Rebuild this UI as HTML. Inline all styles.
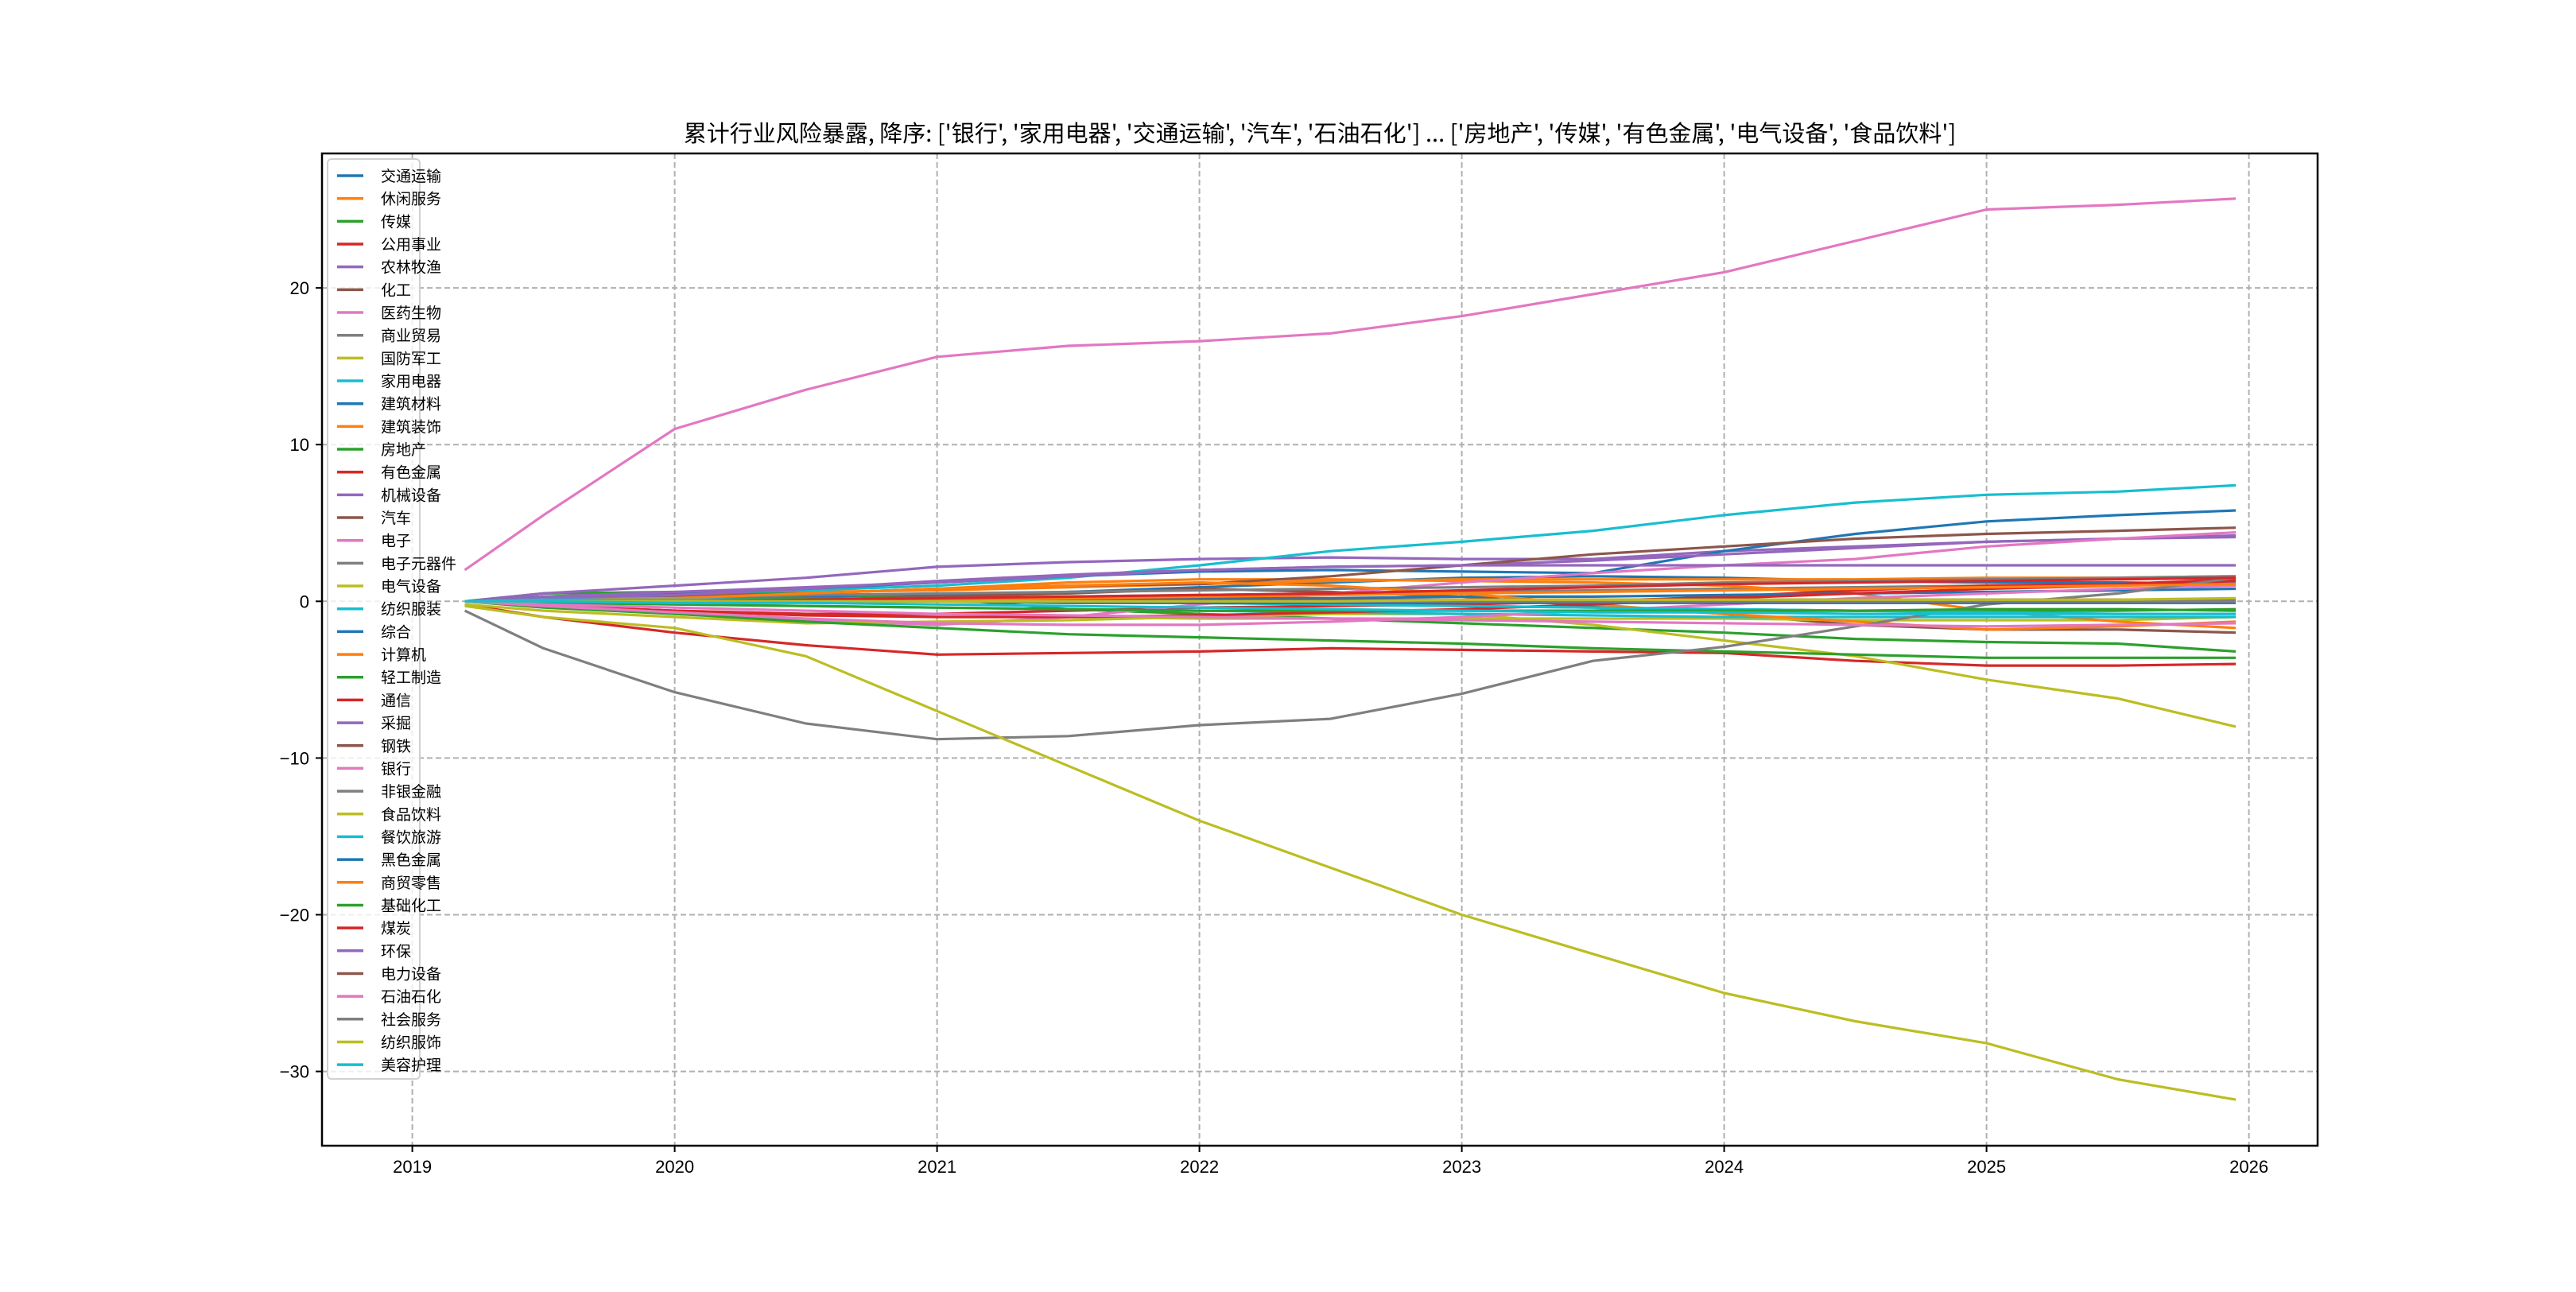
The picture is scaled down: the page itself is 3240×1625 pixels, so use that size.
<!DOCTYPE html>
<html><head><meta charset="utf-8"><style>
html,body{margin:0;padding:0;background:#fff;}
svg text{font-family:"Liberation Sans","Noto Sans CJK SC",sans-serif;}
</style></head><body>
<svg id="chart" width="3240" height="1620" viewBox="0 0 3240 1620" xmlns="http://www.w3.org/2000/svg">
<rect width="3240" height="1620" fill="#fff"/>
<text x="1660" y="178" font-size="29" text-anchor="middle" fill="#000" style="font-family:'Noto Sans CJK SC','Liberation Sans',sans-serif">累计行业风险暴露, 降序: ['银行', '家用电器', '交通运输', '汽车', '石油石化'] ... ['房地产', '传媒', '有色金属', '电气设备', '食品饮料']</text>
<g id="grid"></g>
<g id="lines"></g>
<rect x="405" y="193" width="2510" height="1248" fill="none" stroke="#000" stroke-width="2.5"/>
<g id="axes"></g>
<g id="legend"></g>
</svg>
<script>
const xTickLabels = [2019,2020,2021,2022,2023,2024,2025,2026];
const yTickLabels = [20,10,0,-10,-20,-30];
const times = [2019.2,2019.5,2020,2020.5,2021,2021.5,2022,2022.5,2023,2023.5,2024,2024.5,2025,2025.5,2025.95];
const colors = ['#1f77b4','#ff7f0e','#2ca02c','#d62728','#9467bd','#8c564b','#e377c2','#7f7f7f','#bcbd22','#17becf'];
const s00 = [0,0.1,0.2,0.3,0.4,0.6,0.9,1.2,1.5,1.6,1.5,1.3,1.2,1.2,1.1];
const s01 = [0,0.2,0.4,0.6,0.7,0.9,1.1,1.3,1.4,1.4,1.4,1.4,1.5,1.5,1.6];
const s02 = [0,0.5,0.6,0.5,0.2,-0.5,-0.8,-1.1,-1.4,-1.7,-2.0,-2.4,-2.6,-2.7,-3.2];
const s03 = [-0.2,-1,-2,-2.8,-3.4,-3.3,-3.2,-3.0,-3.1,-3.2,-3.3,-3.8,-4.1,-4.1,-4.0];
const s04 = [0,0.5,1.0,1.5,2.2,2.5,2.7,2.8,2.7,2.7,3.2,3.5,3.8,4.0,4.2];
const s05 = [0,0.1,0.2,0.1,0.3,0.5,0.8,0.6,0.3,-0.3,-0.8,-1.5,-1.8,-1.8,-2.0];
const s06 = [2,5.5,11,13.5,15.6,16.3,16.6,17.1,18.2,19.6,21,23,25,25.3,25.7];
const s07 = [0,0,0.1,0.1,0.2,0.3,0.4,0.5,0.6,0.7,0.8,0.9,1.0,1.1,1.2];
const s08 = [0,-0.3,-0.6,-0.8,-1.0,-1.0,-1.1,-1.1,-1.1,-1.1,-1.1,-1.2,-1.2,-1.2,-1.0];
const s09 = [0,0.3,0.5,0.7,1.0,1.5,2.3,3.2,3.8,4.5,5.5,6.3,6.8,7.0,7.4];
const s10 = [0,0.3,0.5,0.8,1.2,1.6,1.9,2.0,1.9,1.8,3.2,4.3,5.1,5.5,5.8];
const s11 = [0,0.1,0.3,0.5,0.8,1.2,1.4,1.4,1.3,1.2,1.0,0.5,-0.6,-1.3,-1.7];
const s12 = [0,0.3,0.3,0.2,0.1,0,-0.1,-0.2,-0.3,-0.4,-0.5,-0.6,-0.6,-0.6,-0.5];
const s13 = [0,-0.3,-0.6,-0.8,-0.8,-0.6,-0.4,-0.3,-0.2,0,0.3,0.7,1.0,1.1,1.4];
const s14 = [0,0.3,0.6,0.9,1.2,1.6,2.0,2.2,2.3,2.6,3.0,3.4,3.8,4.0,4.1];
const s15 = [0,0.2,0.3,0.5,0.8,1.0,1.1,1.6,2.3,3.0,3.5,4.0,4.3,4.5,4.7];
const s16 = [0,-0.3,-0.8,-1.2,-1.5,-1.0,-0.2,0.5,1.2,1.8,2.3,2.7,3.5,4.0,4.4];
const s17 = [0,0.1,0.2,0.4,0.5,0.6,0.7,0.8,0.9,1.0,1.2,1.3,1.4,1.5,1.6];
const s18 = [-0.2,-0.6,-1,-1.4,-1.3,-1.2,-1.0,-0.8,-0.8,-1.5,-2.5,-3.5,-5,-6.2,-8];
const s19 = [0,-0.1,-0.2,-0.3,-0.4,-0.5,-0.6,-0.7,-0.8,-0.9,-1.0,-1.0,-1.0,-1.0,-1.0];
const s20 = [0,0,0,0.1,0.1,0.1,0.2,0.2,0.3,0.3,0.4,0.5,0.6,0.7,0.8];
const s21 = [0,0.1,0.2,0.5,0.8,1.0,1.2,1.0,0.5,-0.2,-0.8,-1.3,-1.8,-1.6,-1.3];
const s22 = [0,-0.4,-0.8,-1.3,-1.7,-2.1,-2.3,-2.5,-2.7,-3.0,-3.2,-3.4,-3.6,-3.6,-3.6];
const s23 = [0,-0.3,-0.6,-0.9,-1.0,-1.0,-0.9,-0.7,-0.5,-0.2,0.2,0.5,0.8,1.0,1.3];
const s24 = [0,0.2,0.4,0.8,1.3,1.7,2.0,2.2,2.3,2.3,2.3,2.3,2.3,2.3,2.3];
const s25 = [0,0,0,0.1,0.1,0.1,0.1,0.1,0.1,0.1,0.1,0.1,0.1,0.1,0.1];
const s26 = [0,-0.3,-0.7,-1.1,-1.4,-1.5,-1.5,-1.3,-1.0,-0.6,-0.2,0.2,0.5,0.8,1.0];
const s27 = [-0.6,-3,-5.8,-7.8,-8.8,-8.6,-7.9,-7.5,-5.9,-3.8,-2.9,-1.6,-0.2,0.5,1.5];
const s28 = [-0.3,-1,-1.7,-3.5,-7,-10.5,-14,-17,-20,-22.5,-25,-26.8,-28.2,-30.5,-31.8];
const s29 = [0,0.1,0.1,0.1,0,0,-0.1,-0.2,-0.3,-0.4,-0.5,-0.6,-0.7,-0.8,-0.8];
const s30 = [0,0,0,0,0,-0.1,-0.1,-0.1,-0.1,-0.1,-0.1,-0.1,-0.1,-0.1,-0.1];
const s31 = [0,0,0,0.1,0.1,0.2,0.3,0.4,0.5,0.6,0.7,0.8,0.9,1.0,1.1];
const s32 = [0,-0.1,-0.2,-0.3,-0.4,-0.5,-0.6,-0.6,-0.6,-0.6,-0.6,-0.6,-0.5,-0.5,-0.6];
const s33 = [0,0,0,0.1,0.2,0.3,0.4,0.5,0.7,0.9,1.1,1.2,1.3,1.4,1.5];
const s34 = [0,0,0,0,0,0,0,0,0,0,0,0,0,0,0];
const s35 = [0,0,0,0,0,0,0,0,0.1,0.1,0.1,0.1,0.1,0.1,0.1];
const s36 = [0,-0.2,-0.4,-0.6,-0.8,-0.9,-1.0,-1.1,-1.2,-1.3,-1.4,-1.5,-1.6,-1.5,-1.4];
const s37 = [0,0,0,0,0,0,0,0,0,0,0,0,0,0,0];
const s38 = [0,0,0,0,0,0,0,0,0.1,0.1,0.1,0.1,0.1,0.1,0.2];
const s39 = [0,0,-0.1,-0.1,-0.2,-0.3,-0.4,-0.5,-0.6,-0.7,-0.7,-0.8,-0.8,-0.8,-0.8];
const seriesValues = [s00,s01,s02,s03,s04,s05,s06,s07,s08,s09,s10,s11,s12,s13,s14,s15,s16,s17,s18,s19,s20,s21,s22,s23,s24,s25,s26,s27,s28,s29,s30,s31,s32,s33,s34,s35,s36,s37,s38,s39];
const legendNames = ['交通运输','休闲服务','传媒','公用事业','农林牧渔','化工','医药生物','商业贸易','国防军工','家用电器','建筑材料','建筑装饰','房地产','有色金属','机械设备','汽车','电子','电子元器件','电气设备','纺织服装','综合','计算机','轻工制造','通信','采掘','钢铁','银行','非银金融','食品饮料','餐饮旅游','黑色金属','商贸零售','基础化工','煤炭','环保','电力设备','石油石化','社会服务','纺织服饰','美容护理'];

const NS='http://www.w3.org/2000/svg';
const PL=405, PR=2915, PT=193, PB=1441;
function xScale(t){ return 518.6 + (t-2019)*330.0; }
function yScale(v){ return 756.3 - v*19.71; }
function mk(tag, attrs, parent){ const e=document.createElementNS(NS,tag); for(const k in attrs) e.setAttribute(k,attrs[k]); parent.appendChild(e); return e; }
const grid=document.getElementById('grid'), axes=document.getElementById('axes'), lines=document.getElementById('lines'), legend=document.getElementById('legend');

xTickLabels.forEach(y=>{
  const x=xScale(y);
  const g=mk('line',{x1:x,x2:x,y1:PT,y2:PB,stroke:'#b0b0b0','stroke-width':2,'stroke-dasharray':'7,4'},grid);
  
  
  const t=mk('line',{x1:x,x2:x,y1:PB,y2:PB+8,stroke:'#000','stroke-width':2},axes);
  
  
  const l=mk('text',{x:x,y:PB+34,'font-size':22,'text-anchor':'middle',fill:'#000'},axes);
  l.textContent=y;
  
  
});
yTickLabels.forEach(v=>{
  const y=yScale(v);
  const g=mk('line',{x1:PL,x2:PR,y1:y,y2:y,stroke:'#b0b0b0','stroke-width':2,'stroke-dasharray':'7,4'},grid);
  
  
  const t=mk('line',{x1:PL-8,x2:PL,y1:y,y2:y,stroke:'#000','stroke-width':2},axes);
  
  
  const l=mk('text',{x:PL-16,y:y+8,'font-size':22,'text-anchor':'end',fill:'#000'},axes);
  l.textContent=(v<0?'\u2212'+(-v):v);
  
  
});
seriesValues.forEach((vals,i)=>{
  const d=vals.map((v,j)=>(j?'L':'M')+xScale(times[j]).toFixed(1)+','+yScale(v).toFixed(1)).join(' ');
  const p=mk('path',{d:d,fill:'none',stroke:colors[i%10],'stroke-width':3.2,'stroke-linejoin':'round'},lines);
  
  
});
const nLeg=legendNames.length;
const box=mk('rect',{x:412,y:200,width:116,height:1157,rx:5,fill:'#fff','fill-opacity':0.8,stroke:'#d0d0d0','stroke-width':2},legend);


for(let i=0;i<nLeg;i++){
  const y=221+i*28.67;
  const ln=mk('line',{x1:424,x2:457,y1:y,y2:y,stroke:colors[i%10],'stroke-width':3.5},legend);
  
  
  const t=mk('text',{x:479,y:y+7,'font-size':19,fill:'#000'},legend);
  t.textContent=legendNames[i];
  
  
}
</script>
</body></html>
